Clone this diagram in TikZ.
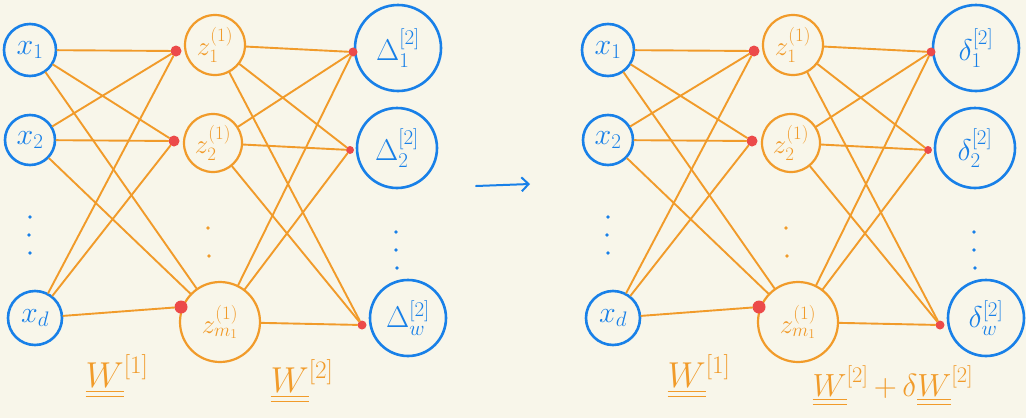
\documentclass[tikz,border=0pt]{standalone}
\usepackage{fix-cm}
\usepackage{amsmath}
\usetikzlibrary{arrows.meta}

\definecolor{paper}{RGB}{248,246,234}
\definecolor{inkblue}{RGB}{24,128,232}
\definecolor{inkorange}{RGB}{241,155,42}
\definecolor{inkred}{RGB}{236,74,74}

\tikzset{
  unit/.style={circle, draw=inkblue, line width=2.6pt, inner sep=0pt, text=inkblue,
    font=\fontsize{30}{30}\selectfont},
  hidden/.style={circle, draw=inkorange, line width=2.2pt, inner sep=0pt, text=inkorange,
    font=\fontsize{27}{27}\selectfont},
  blob/.style={circle, fill=inkred, inner sep=0pt, minimum size=#1},
  wire/.style={draw=inkorange, line width=1.9pt, line cap=round},
  vdot/.style={circle, fill=#1, inner sep=0pt, minimum size=3.6pt},
  wlabel/.style={text=inkorange, inner sep=0pt, font=\fontsize{36}{36}\selectfont},
}

\begin{document}
\begin{tikzpicture}[x=1pt, y=-1pt]
% page size and paper colour
\useasboundingbox (0,0) rectangle (1026,418);
\fill[paper] (0,0) rectangle (1026,418);

% the same net twice: forward pass on the left, backward pass on the right
\foreach \off/\nm/\out in {0/L/\Delta, 578/R/\delta} {
  % input layer
  \node[unit, minimum size=52] (\nm x1) at (30+\off,50) {$x_1$};
  \node[unit, minimum size=50] (\nm x2) at (30+\off,140) {$x_2$};
  \node[unit, minimum size=54] (\nm xd) at (35+\off,318) {$x_d$};
  \node[vdot=inkblue] (\nm xa) at (30+\off,217) {};
  \node[vdot=inkblue] (\nm xb) at (29+\off,235) {};
  \node[vdot=inkblue] (\nm xc) at (30+\off,253) {};

  % hidden layer
  \node[hidden, minimum size=60] (\nm z1) at (215+\off,45) {$z^{(1)}_{1}$};
  \node[hidden, minimum size=58] (\nm z2) at (213+\off,143) {$z^{(1)}_{2}$};
  \node[hidden, minimum size=80] (\nm zm) at (220+\off,322) {$z^{(1)}_{m_1}$};
  \node[vdot=inkorange] (\nm za) at (208+\off,228) {};
  \node[vdot=inkorange] (\nm zb) at (209+\off,256) {};

  % output layer
  \node[unit, minimum size=86] (\nm o1) at (398+\off,48) {$\out^{[2]}_{1}$};
  \node[unit, minimum size=80] (\nm o2) at (397+\off,148) {$\out^{[2]}_{2}$};
  \node[unit, minimum size=76] (\nm om) at (408+\off,318) {$\out^{[2]}_{w}$};
  \node[vdot=inkblue] (\nm oa) at (396+\off,232) {};
  \node[vdot=inkblue] (\nm ob) at (396+\off,250) {};
  \node[vdot=inkblue] (\nm oc) at (397+\off,268) {};

  % red blobs where the weights come in
  \node[blob=11] (\nm d1) at (176+\off,51) {};
  \node[blob=11] (\nm d2) at (174+\off,141) {};
  \node[blob=13] (\nm dm) at (181+\off,307) {};
  \node[blob=9] (\nm e1) at (353+\off,52) {};
  \node[blob=8] (\nm e2) at (350+\off,150) {};
  \node[blob=9] (\nm em) at (362+\off,325) {};

  % first layer of weights
  \foreach \a/\b in {x1/d1, x1/d2, x1/zm, x2/d1, x2/d2, x2/zm, xd/d1, xd/d2, xd/dm}
    \draw[wire] (\nm\a) -- (\nm\b);
  % second layer of weights
  \foreach \a/\b in {z1/e1, z1/e2, z1/em, z2/e1, z2/e2, z2/em, zm/e1, zm/e2, zm/em}
    \draw[wire] (\nm\a) -- (\nm\b);
}

% weight matrices
\node[wlabel] (w1L) at (117,376) {$\underline{\underline{W}}^{[1]}$};
\node[wlabel] (w2L) at (302,381) {$\underline{\underline{W}}^{[2]}$};
\node[wlabel] (w1R) at (699,376) {$\underline{\underline{W}}^{[1]}$};
\node[wlabel, font=\fontsize{32}{32}\selectfont] (w2R) at (893,386)
  {$\underline{\underline{W}}^{[2]}\,{+}\,\delta\underline{\underline{W}}^{[2]}$};

% step to the update
\coordinate (go) at (476,186);
\coordinate (stop) at (530,184);
\draw[inkblue, line width=2pt, line cap=round, -{Straight Barb[length=7pt, width=14pt]}] (go) -- (stop);
\end{tikzpicture}
\end{document}
